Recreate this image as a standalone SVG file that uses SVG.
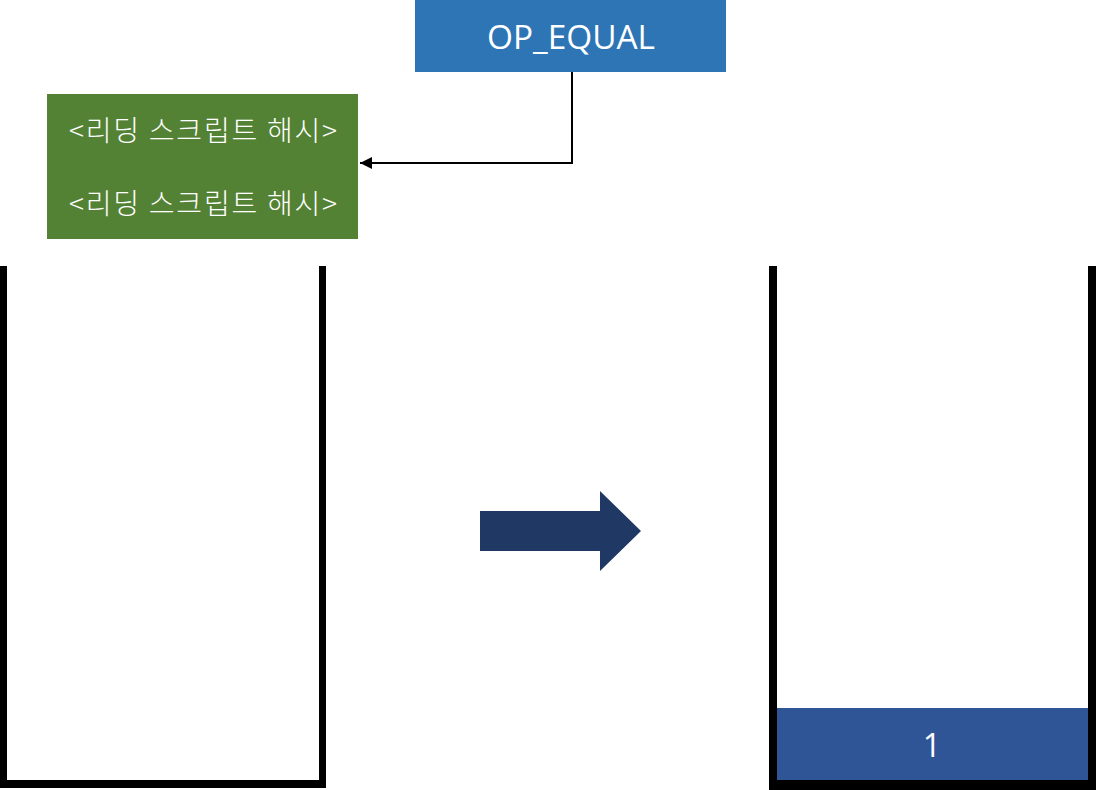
<svg xmlns="http://www.w3.org/2000/svg" width="1096" height="790" viewBox="0 0 1096 790">
<defs>
<style>
.lbl{font-family:"Open Sans","Noto Sans","Noto Sans CJK KR",sans-serif;fill:#fff}
.kr{font-family:"Noto Sans CJK KR","Noto Sans",sans-serif;fill:#fff;font-size:28px;font-weight:300}
.wall{fill:#000}
</style>
<marker id="ah" viewBox="0 0 10 10" refX="10" refY="5" markerWidth="6" markerHeight="6" orient="auto" markerUnits="strokeWidth">
<path d="M0,0 L10,5 L0,10 z" fill="#000"/>
</marker>
</defs>
<rect width="1096" height="790" fill="#fff"/>
<g id="op-equal">
<rect x="415" y="0" width="311" height="72" fill="#2E75B6"/>
<text class="lbl" x="571" y="49" font-size="32" text-anchor="middle" textLength="168" lengthAdjust="spacingAndGlyphs">OP_EQUAL</text>
</g>
<g id="hashes">
<rect x="47" y="94" width="311" height="145" fill="#548235"/>
<text class="kr" x="69" y="141" textLength="268" lengthAdjust="spacing">&lt;리딩 스크립트 해시&gt;</text>
<text class="kr" x="69" y="214" textLength="268" lengthAdjust="spacing">&lt;리딩 스크립트 해시&gt;</text>
</g>
<g id="stack-before">
<rect class="wall" x="0" y="266" width="7" height="522"/>
<rect class="wall" x="319" y="266" width="7" height="522"/>
<rect class="wall" x="0" y="780" width="326" height="8"/>
</g>
<g id="transition-arrow">
<path d="M480,511 L600,511 L600,491 L641,531 L600,571 L600,551 L480,551 z" fill="#203864"/>
</g>
<g id="stack-after">
<rect x="777" y="708" width="311" height="72" fill="#2F5597"/>
<text class="lbl" x="932" y="757" font-size="32" text-anchor="middle">1</text>
<rect class="wall" x="769" y="266" width="8" height="524"/>
<rect class="wall" x="1088" y="266" width="8" height="524"/>
<rect class="wall" x="769" y="780" width="327" height="10"/>
</g>
<g id="connectors">
<path d="M572,72 L572,163 L360,163" fill="none" stroke="#000" stroke-width="2" marker-end="url(#ah)"/>
</g>
</svg>
